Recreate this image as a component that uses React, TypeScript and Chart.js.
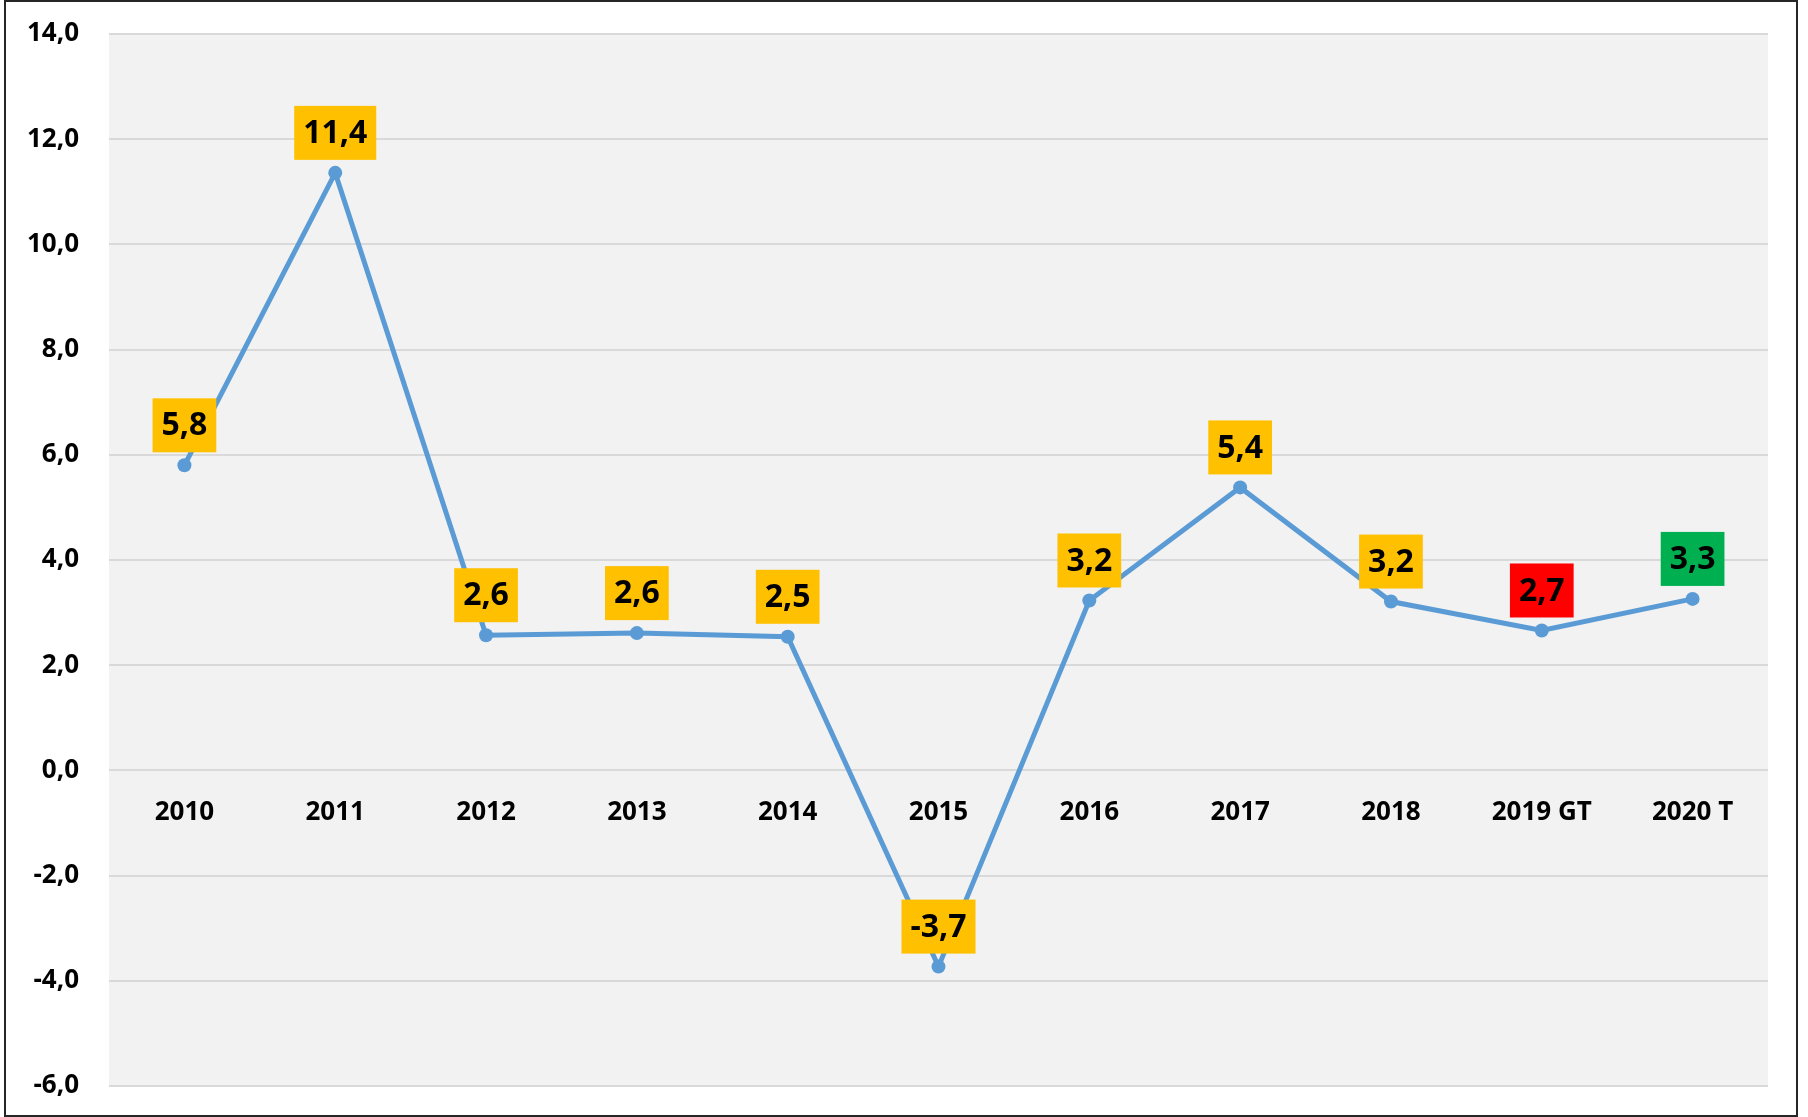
import React, { useEffect, useRef } from "react";
import { Chart, registerables } from "chart.js";

Chart.register(...registerables);

const categories = ["2010", "2011", "2012", "2013", "2014", "2015", "2016", "2017", "2018", "2019 GT", "2020 T"];
const values = [5.8, 11.36, 2.57, 2.61, 2.54, -3.73, 3.23, 5.38, 3.21, 2.66, 3.26];
const labelColors = ["#FFC000", "#FFC000", "#FFC000", "#FFC000", "#FFC000", "#FFC000", "#FFC000", "#FFC000", "#FFC000", "#FF0000", "#00B050"];
const yMin = -6;
const yMax = 14;
const yStep = 2;

const FONT = "'Open Sans', Lato, sans-serif";

const fmt = (v: number) => v.toFixed(1).replace(".", ",");

const bgPlugin = {
  id: "plotBg",
  beforeDraw(chart: any) {
    const { ctx, chartArea } = chart;
    ctx.save();
    ctx.fillStyle = "#F2F2F2";
    ctx.fillRect(chartArea.left, chartArea.top, chartArea.right - chartArea.left, chartArea.bottom - chartArea.top);
    ctx.restore();
  },
};

const labelPlugin = {
  id: "boxLabels",
  afterDatasetsDraw(chart: any) {
    const { ctx } = chart;
    const meta = chart.getDatasetMeta(0);
    ctx.save();
    ctx.font = `bold 32px ${FONT}`;
    ctx.textAlign = "center";
    ctx.textBaseline = "middle";
    meta.data.forEach((pt: any, i: number) => {
      const text = fmt(values[i]);
      const w = ctx.measureText(text).width + 18;
      const h = 54;
      const cx = pt.x;
      const cy = pt.y - 40;
      ctx.fillStyle = labelColors[i];
      ctx.fillRect(cx - w / 2, cy - h / 2, w, h);
      ctx.fillStyle = "#000000";
      ctx.fillText(text, cx, cy + 1);
    });
    ctx.restore();
  },
};

export default function App() {
  const ref = useRef<HTMLCanvasElement | null>(null);

  useEffect(() => {
    if (!ref.current) return;
    const chart = new Chart(ref.current, {
      type: "line",
      data: {
        labels: categories,
        datasets: [
          {
            data: values,
            borderColor: "#5B9BD5",
            backgroundColor: "#5B9BD5",
            borderWidth: 5,
            pointRadius: 7,
            pointBorderWidth: 0,
            pointBackgroundColor: "#5B9BD5",
            tension: 0,
            fill: false,
          },
        ],
      },
      options: {
        responsive: false,
        animation: false,
        layout: { padding: { left: 0, top: 34, right: 40, bottom: 31 } },
        plugins: { legend: { display: false }, tooltip: { enabled: false }, title: { display: false } },
        scales: {
          x: {
            type: "category",
            offset: true,
            position: { y: 0 } as any,
            grid: { display: false, drawTicks: false },
            border: { display: false },
            ticks: {
              color: "#000000",
              font: { family: FONT, size: 26, weight: "bold" },
              padding: 27,
              maxRotation: 0,
              autoSkip: false,
            },
          },
          y: {
            min: yMin,
            max: yMax,
            grid: { color: "#D9D9D9", lineWidth: 2, drawTicks: false },
            border: { display: false },
            ticks: {
              stepSize: yStep,
              color: "#000000",
              font: { family: FONT, size: 26, weight: "bold" },
              padding: 30,
              callback: (v: any) => fmt(Number(v)),
            },
            afterFit: (scale: any) => {
              scale.width = 109;
              scale.paddingTop = 16;
              scale.paddingBottom = 16;
            },
          },
        },
      },
      plugins: [bgPlugin, labelPlugin],
    });
    return () => chart.destroy();
  }, []);

  return (
    <div style={{ position: "fixed", left: 0, top: 0, width: 1808, height: 1117, background: "#FFFFFF" }}>
      <canvas ref={ref} width={1808} height={1117} style={{ position: "absolute", left: 0, top: 0, width: 1808, height: 1117 }} />
      <div
        style={{
          position: "absolute",
          left: 4,
          top: 0,
          width: 1794,
          height: 1117,
          border: "2px solid #262626",
          boxSizing: "border-box",
          pointerEvents: "none",
        }}
      />
    </div>
  );
}
